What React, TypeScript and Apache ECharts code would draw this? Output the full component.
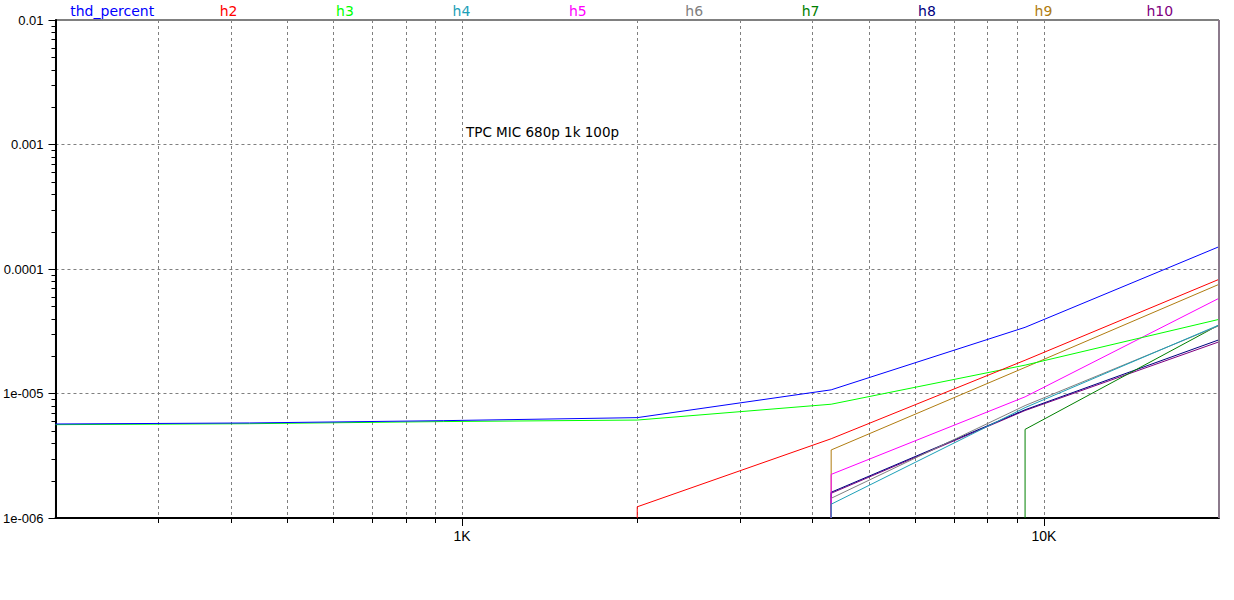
import React, { useEffect, useRef } from 'react';
import * as echarts from 'echarts';

// Frequencies (Hz) of the simulation points
const freqs = [200, 431, 928, 2000, 4309, 9283, 20000];

// Values (null = below the axis floor)
const thdPercent = [5.69e-6, 5.8e-6, 6.05e-6, 6.4e-6, 1.07e-5, 3.4e-5, 1.51e-4];
const h2 = [null, null, null, 1.23e-6, 4.33e-6, 1.85e-5, 8.26e-5];
const h3 = [5.62e-6, 5.72e-6, 5.95e-6, 6.12e-6, 8.2e-6, 1.69e-5, 3.94e-5];
const h4 = [null, null, null, null, 1.29e-6, 7.7e-6, 3.55e-5];
const h5 = [null, null, null, null, 2.24e-6, 9.4e-6, 5.82e-5];
const h6 = [null, null, null, null, 1.44e-6, 8.0e-6, 3.5e-5];
const h7 = [null, null, null, null, null, 5.15e-6, 3.55e-5];
const h8 = [null, null, null, null, 1.61e-6, 7.4e-6, 2.7e-5];
const h9 = [null, null, null, null, 3.52e-6, 1.62e-5, 7.53e-5];
const h10 = [null, null, null, null, 1.58e-6, 7.3e-6, 2.6e-5];

const seriesNames = ['thd_percent', 'h2', 'h3', 'h4', 'h5', 'h6', 'h7', 'h8', 'h9', 'h10'];
const seriesValues = [thdPercent, h2, h3, h4, h5, h6, h7, h8, h9, h10];
const seriesColors = ['#0000ff', '#ff0000', '#00ff00', '#1ca0b8', '#ff00ff', '#808080', '#008000', '#000080', '#b07c10', '#800080'];

// Axis ranges and tick labels
const xMin = 200;
const xMax = 20000;
const yMin = 1e-6;
const yMax = 1e-2;
const xTickValues = [1000, 10000];
const xTickLabels = ['1K', '10K'];
const xMinorGrid = [300, 400, 500, 600, 700, 800, 900, 2000, 3000, 4000, 5000, 6000, 7000, 8000, 9000];
const yTickValues = [1e-6, 1e-5, 1e-4, 1e-3, 1e-2];
const yTickLabels = ['1e-006', '1e-005', '0.0001', '0.001', '0.01'];
const yMinorTicks = [
  2e-6, 3e-6, 4e-6, 5e-6, 6e-6, 7e-6, 8e-6, 9e-6,
  2e-5, 3e-5, 4e-5, 5e-5, 6e-5, 7e-5, 8e-5, 9e-5,
  2e-4, 3e-4, 4e-4, 5e-4, 6e-4, 7e-4, 8e-4, 9e-4,
  2e-3, 3e-3, 4e-3, 5e-3, 6e-3, 7e-3, 8e-3, 9e-3,
];
const annotation = 'TPC MIC 680p 1k 100p';

const FONT = '"Liberation Sans", Arial, sans-serif';
const TEXT_FONT = '"DejaVu Sans", Verdana, sans-serif';

function near(a: number, b: number) {
  return Math.abs(Math.log10(a) - Math.log10(b)) < 1e-6;
}

function buildData(values: (number | null)[]) {
  const out: [number, number][] = [];
  const first = values.findIndex((v) => v != null);
  if (first > 0) out.push([freqs[first], yMin]);
  values.forEach((v, i) => {
    if (v != null) out.push([freqs[i], v]);
  });
  return out;
}

const crisp = (v: number) => Math.round(v) + 0.5;

export default function App() {
  const ref = useRef<HTMLDivElement>(null);

  useEffect(() => {
    document.body.style.margin = '0';
    if (!ref.current) return;
    const chart = echarts.init(ref.current, null, { renderer: 'svg' });

    const gridLeft = 55;
    const gridRight = 15;
    const plotWidth = 1234 - gridLeft - gridRight;
    const slot = plotWidth / seriesNames.length;

    const lineSeries: any[] = seriesNames.map((name, i) => ({
      name,
      type: 'line',
      data: buildData(seriesValues[i]),
      showSymbol: false,
      symbol: 'none',
      lineStyle: { color: seriesColors[i], width: 1 },
      itemStyle: { color: seriesColors[i] },
      z: 10 + (seriesNames.length - i),
      silent: true,
    }));

    // right border line
    lineSeries[0].markLine = {
      silent: true,
      symbol: 'none',
      label: { show: false },
      lineStyle: { color: '#8c7a8c', width: 2, type: 'solid' },
      data: [{ xAxis: xMax }],
      z: 30,
    };

    const minorGridSeries = {
      type: 'custom',
      silent: true,
      z: 1,
      clip: false,
      data: xMinorGrid.map((f) => [f, yMin]),
      renderItem: (_p: any, api: any) => {
        const f = api.value(0);
        const top = api.coord([f, yMax]);
        const bot = api.coord([f, yMin]);
        const x = crisp(top[0]);
        return {
          type: 'group',
          children: [
            {
              type: 'line',
              shape: { x1: x, y1: top[1], x2: x, y2: bot[1] },
              style: { stroke: '#808080', lineWidth: 1, lineDash: [3, 3] },
            },
            {
              type: 'line',
              shape: { x1: x, y1: bot[1], x2: x, y2: bot[1] + 5 },
              style: { stroke: '#000', lineWidth: 1 },
            },
          ],
        };
      },
    };

    const yMinorSeries = {
      type: 'custom',
      silent: true,
      z: 1,
      clip: false,
      data: yMinorTicks.map((v) => [xMin, v]),
      renderItem: (_p: any, api: any) => {
        const p = api.coord([xMin, api.value(1)]);
        const y = crisp(p[1]);
        return {
          type: 'line',
          shape: { x1: p[0] - 4, y1: y, x2: p[0], y2: y },
          style: { stroke: '#000', lineWidth: 1 },
        };
      },
    };

    const legendTexts = seriesNames.map((name, i) => ({
      type: 'text',
      x: gridLeft + slot * (i + 0.5) - 1,
      y: 11,
      style: {
        text: name,
        fill: seriesColors[i],
        font: `14px ${TEXT_FONT}`,
        textAlign: 'center',
        textVerticalAlign: 'middle',
        align: 'center',
        verticalAlign: 'middle',
      },
    }));

    const option: any = {
      animation: false,
      backgroundColor: '#ffffff',
      grid: {
        left: gridLeft,
        right: gridRight,
        top: 20,
        bottom: 82,
        show: true,
        borderColor: '#000',
        borderWidth: 1,
        backgroundColor: 'transparent',
      },
      xAxis: {
        type: 'log',
        logBase: 10,
        min: xMin,
        max: xMax,
        axisLine: { show: true, lineStyle: { color: '#000', width: 2 } },
        axisTick: { show: true, length: 8, lineStyle: { color: '#000' } },
        axisLabel: {
          margin: 11,
          color: '#000',
          fontSize: 14,
          fontFamily: FONT,
          showMinLabel: false,
          showMaxLabel: false,
          formatter: (v: number) => {
            const idx = xTickValues.findIndex((t) => near(t, v));
            return idx >= 0 ? xTickLabels[idx] : '';
          },
        },
        splitLine: { show: true, lineStyle: { color: '#808080', type: [3, 3], width: 1 } },
        minorTick: { show: false },
        minorSplitLine: { show: false },
      },
      yAxis: {
        type: 'log',
        logBase: 10,
        min: yMin,
        max: yMax,
        axisLine: { show: true, lineStyle: { color: '#000', width: 2 } },
        axisTick: { show: true, length: 7, lineStyle: { color: '#000' } },
        axisLabel: {
          margin: 12,
          color: '#000',
          fontSize: 13,
          fontFamily: FONT,
          formatter: (v: number) => {
            const idx = yTickValues.findIndex((t) => near(t, v));
            return idx >= 0 ? yTickLabels[idx] : '';
          },
        },
        splitLine: { show: true, lineStyle: { color: '#808080', type: [3, 3], width: 1 } },
        minorTick: { show: false },
        minorSplitLine: { show: false },
      },
      graphic: [
        ...legendTexts,
        {
          type: 'text',
          x: 466,
          y: 132,
          style: {
            text: annotation,
            fill: '#000',
            font: `13.5px ${TEXT_FONT}`,
            textAlign: 'left',
            textVerticalAlign: 'middle',
            align: 'left',
            verticalAlign: 'middle',
          },
        },
      ],
      series: [minorGridSeries, yMinorSeries, ...lineSeries],
    };

    chart.setOption(option);
    return () => chart.dispose();
  }, []);

  return <div ref={ref} style={{ width: 1234, height: 600 }} />;
}
